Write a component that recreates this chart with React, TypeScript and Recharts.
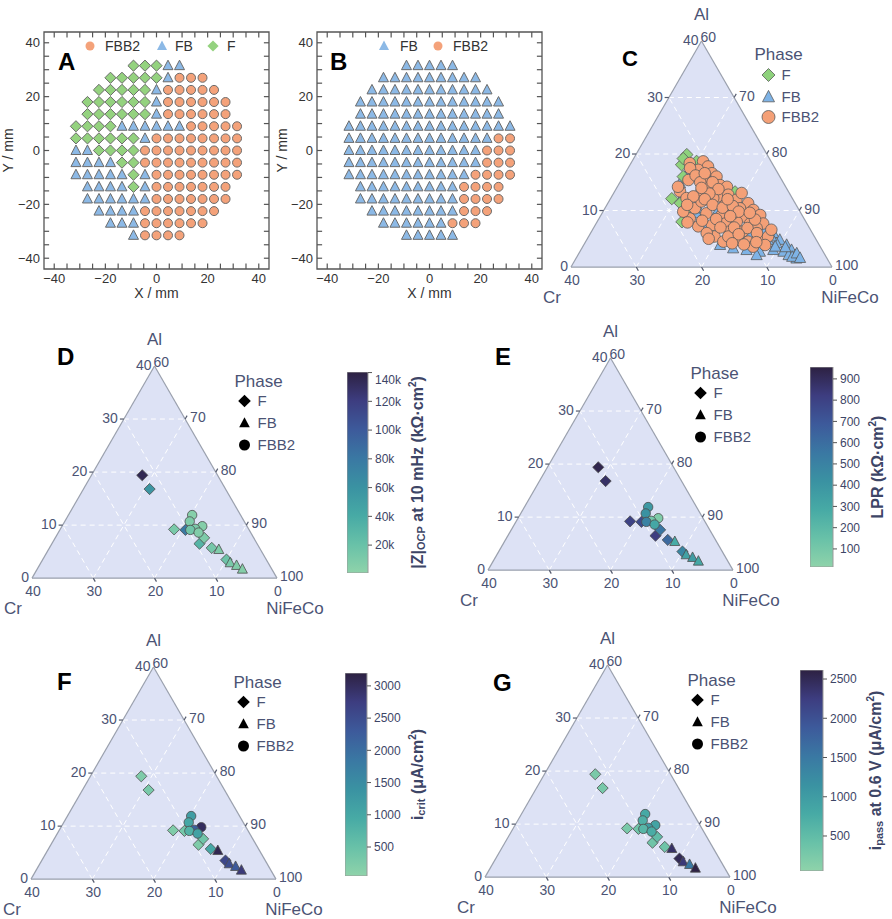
import React from "react";
import {
  ScatterChart, Scatter, ComposedChart, Area, Bar, XAxis, YAxis,
  ReferenceLine, ReferenceArea,
} from "recharts";

const FONT = '"Liberation Sans", Arial, Helvetica, sans-serif';
const INK = "#4b5374";

// ---------- wafer maps (A, B): one string per row, one char per column ----------
// D = F phase, T = FB, O = FBB2, . = no spot
const WAFER_X = [-31.5, -27, -22.5, -18, -13.5, -9, -4.5, 0, 4.5, 9, 13.5, 18, 22.5, 27, 31.5];
const WAFER_Y = [31.5, 27, 22.5, 18, 13.5, 9, 4.5, 0, -4.5, -9, -13.5, -18, -22.5, -27, -31.5];

const WAFER_A = [
  ".....DDDTT.....",
  "...DDDDDTOOO...",
  "..DDDDDTOOOOO..",
  ".DDDDDDTOOOOOO.",
  ".DDDDDDTOOOOOO.",
  "DDDDTTTTTTOOOOO",
  "DDDDDDTOOOOOOOO",
  "TTDDDDOOOOOOOOO",
  "TTTTDDOOOOOOOOO",
  "TTTTTDTOOOOOOOO",
  ".TTTTDTOOOOOOO.",
  ".TTTTTTOOOOOOO.",
  "..TTTTOOOOOOO..",
  "...TTTOOOOOO...",
  ".....TOOOO.....",
];

const WAFER_B = [
  ".....TTTTT.....",
  "...TTTTTTTTT...",
  "..TTTTTTTTTTT..",
  ".TTTTTTTTTTTTT.",
  ".TTTTTTTTTTTTT.",
  "TTTTTTTTTTTTTTT",
  "TTTTTTTTTTTTTOO",
  "TTTTTTTTTTTTOOO",
  "TTTTTTTTTTTTOOO",
  "TTTTTTTTTTTOOOO",
  ".TTTTTTTTTOOOO.",
  ".TTTTTTTTTOOOO.",
  "..TTTTTTTTOOO..",
  "...TTTTTTOOO...",
  ".....TTTTT.....",
];

const AXIS_TICKS = [-40, -20, 0, 20, 40];
const MINOR_TICKS = [-40, -35, -30, -25, -20, -15, -10, -5, 0, 5, 10, 15, 20, 25, 30, 35, 40];

// ---------- ternary C: all compositions [Al, Cr] at.% (NiFeCo = balance) ----------
const C_F: [number, number][] = [
  [19.9, 12.3], [18.1, 14.0], [17.2, 12.9], [18.7, 11.4], [12.1, 18.5], [11.3, 17.6],
  [10.6, 16.5], [13.3, 8.2], [8.0, 19.0], [16.3, 11.1], [16.0, 14.8], [19.2, 13.2],
];
const C_FB: [number, number][] = [
  [6.0, 6.0], [4.8, 5.6], [3.9, 5.0], [3.0, 4.7], [2.1, 4.6], [2.7, 6.1], [3.0, 7.5],
  [4.2, 6.4], [4.8, 7.4], [2.1, 5.6], [2.7, 9.7], [3.0, 11.6], [3.3, 13.5], [3.9, 15.2],
  [12.8, 16.4], [14.8, 15.9], [16.9, 13.6], [9.5, 16.0], [10.4, 15.3], [10.1, 12.4],
  [7.2, 15.6], [6.0, 9.6], [6.3, 7.2], [1.5, 4.7], [2.1, 10.5], [10.1, 10.6],
  [3.5, 5.4], [1.8, 5.2], [2.4, 4.2], [5.4, 6.6], [3.6, 6.9], [1.6, 4.1],
];
const C_FBB2: [number, number][] = [
  [18.7, 10.4], [17.8, 10.1], [17.2, 11.9], [16.6, 10.1], [16.0, 9.7], [15.7, 11.6],
  [15.4, 14.3], [14.5, 9.9], [14.2, 9.0], [14.2, 11.6], [13.4, 13.3], [13.4, 16.6],
  [12.2, 16.2], [12.5, 11.2], [12.8, 9.5], [11.9, 8.7], [11.3, 7.2], [11.0, 10.9],
  [10.4, 8.9], [10.1, 7.0], [9.2, 6.4], [8.9, 8.9], [9.2, 12.3], [9.5, 14.5],
  [8.6, 17.5], [9.8, 17.9], [7.2, 16.9], [7.4, 14.7], [7.7, 12.5], [8.0, 10.6],
  [7.7, 8.7], [7.7, 6.7], [6.9, 8.1], [6.3, 10.5], [6.3, 12.5], [5.4, 15.3],
  [4.5, 14.4], [4.8, 12.2], [4.5, 10.6], [5.1, 8.8], [5.4, 7.1], [3.9, 8.3],
  [3.6, 10.3], [10.4, 15.8], [11.6, 14.2], [12.2, 12.1], [6.6, 6.0], [9.5, 10.4],
  [6.0, 16.2], [13.1, 7.3], [14.2, 16.5], [18.4, 12.6], [12.5, 15.0], [5.4, 13.2],
  [17.5, 13.0], [16.2, 12.8], [15.0, 12.7], [15.0, 10.8], [13.8, 10.5], [13.0, 12.3],
  [12.0, 13.5], [11.0, 12.8], [10.5, 11.5], [10.8, 9.8], [9.8, 9.4], [9.0, 11.1],
  [8.5, 13.5], [8.2, 15.8], [7.0, 13.6], [7.0, 11.5], [6.9, 9.5], [6.0, 8.5],
  [5.8, 11.4], [4.2, 13.2], [4.0, 11.5], [4.4, 9.4], [8.4, 7.6], [9.6, 7.8],
  [12.0, 10.0], [14.0, 13.0], [16.6, 11.2], [11.0, 16.7], [7.9, 18.2], [5.0, 16.4],
];

// ---------- ternaries D–G: measured samples [Al, Cr] ----------
const MEAS_F: [number, number][] = [
  [19.4, 12.3], [16.8, 12.4], [9.2, 12.2], [9.1, 10.4], [6.5, 9.4], [7.6, 8.1], [5.7, 7.8], [3.5, 6.5],
];
const MEAS_FB: [number, number][] = [[5.4, 6.8], [2.9, 6.2], [2.4, 5.4], [1.7, 4.8]];
const MEAS_FBB2: [number, number][] = [
  [11.9, 7.9], [10.7, 8.9], [9.8, 7.3], [9.3, 8.7], [9.1, 9.6], [8.6, 8.5],
];

const ZOCP_F = [135000, 58000, 12000, 80000, 32000, 10000, 14000, 18000];
const ZOCP_FB = [9000, 12000, 8000, 6000];
const ZOCP_FBB2 = [5000, 9000, 6000, 11000, 16000, 8000];

const LPR_F = [930, 880, 800, 760, 820, 560, 620, 480];
const LPR_FB = [280, 330, 360, 300];
const LPR_FBB2 = [380, 420, 70, 110, 500, 300];

const ICRIT_F = [250, 300, 220, 350, 250, 420, 1000, 2600];
const ICRIT_FB = [3100, 2500, 2300, 2800];
const ICRIT_FBB2 = [1200, 1000, 3000, 2200, 800, 1100];

const IPASS_F = [250, 280, 260, 350, 350, 500, 350, 2500];
const IPASS_FB = [2400, 2300, 1500, 2600];
const IPASS_FBB2 = [800, 700, 900, 1000, 600, 750];

const ZOCP_TICKS = [20000, 40000, 60000, 80000, 100000, 120000, 140000];
const LPR_TICKS = [100, 200, 300, 400, 500, 600, 700, 800, 900];
const ICRIT_TICKS = [500, 1000, 1500, 2000, 2500, 3000];
const IPASS_TICKS = [500, 1000, 1500, 2000, 2500];

const ZOCP_DOM: [number, number] = [600, 140400];
const LPR_DOM: [number, number] = [15, 956];
const ICRIT_DOM: [number, number] = [50, 3200];
const IPASS_DOM: [number, number] = [54, 2615];

const AL_TICKS = [0, 10, 20, 30, 40];
const NIFECO_TICKS = [60, 70, 80, 90, 100];
const CR_TICKS = [40, 30, 20, 10, 0];
const GRID_STEPS = [10, 20, 30];

// colour scale of the colour bars (low -> high)
const CMAP = ["#8fd3aa", "#68c1a8", "#47aaa5", "#3a92a2", "#3a78a3", "#3d5a9b", "#3d3d80", "#2d2142"];

type Kind = "circle" | "triangle" | "diamond";
type Phase = "F" | "FB" | "FBB2";

const PHASE_CODE: Record<string, Phase> = { D: "F", T: "FB", O: "FBB2" };
const WAFER_STYLE: Record<Phase, { kind: Kind; fill: string; s: number }> = {
  FBB2: { kind: "circle", fill: "#F4A27A", s: 4.5 },
  FB: { kind: "triangle", fill: "#8CB9E6", s: 5 },
  F: { kind: "diamond", fill: "#94D27F", s: 5.6 },
};

function hex(c: string) {
  return [1, 3, 5].map((i) => parseInt(c.slice(i, i + 2), 16));
}
function cmap(t: number) {
  const tt = Math.max(0, Math.min(1, t));
  const n = CMAP.length - 1;
  const i = Math.min(n - 1, Math.floor(tt * n));
  const f = tt * n - i;
  const a = hex(CMAP[i]);
  const b = hex(CMAP[i + 1]);
  const m = a.map((v, k) => Math.round(v + (b[k] - v) * f));
  return `rgb(${m[0]},${m[1]},${m[2]})`;
}

const SQ = Math.sqrt(3) / 2;
// ternary composition -> cartesian (x along the Cr/NiFeCo base, y up towards Al)
const tern = (al: number, cr: number) => ({ x: 40 - cr - al / 2, y: al * SQ });

function waferPoints(rows: string[], phase: Phase) {
  const out: { x: number; y: number }[] = [];
  rows.forEach((row, r) => {
    row.split("").forEach((ch, c) => {
      if (PHASE_CODE[ch] === phase) out.push({ x: WAFER_X[c], y: WAFER_Y[r] });
    });
  });
  return out;
}

function Marker({ cx, cy, kind, s, fill, stroke, sw }: {
  cx?: number; cy?: number; kind: Kind; s: number; fill: string; stroke?: string; sw?: number;
}) {
  if (cx == null || cy == null || isNaN(cx) || isNaN(cy)) return null;
  const common = { fill, stroke: stroke ?? "none", strokeWidth: sw ?? 0 };
  if (kind === "circle") return <circle cx={cx} cy={cy} r={s} {...common} />;
  if (kind === "triangle") {
    const p = `${cx},${cy - s * 1.1} ${cx + s},${cy + s * 0.8} ${cx - s},${cy + s * 0.8}`;
    return <polygon points={p} {...common} strokeLinejoin="round" />;
  }
  const p = `${cx},${cy - s} ${cx + s},${cy} ${cx},${cy + s} ${cx - s},${cy}`;
  return <polygon points={p} {...common} />;
}

const fmtMinus = (v: number) => (v < 0 ? `\u2212${-v}` : `${v}`);

// ---------------- wafer panel ----------------
interface WaferLegendItem { phase: Phase; mx: number; tx: number; label: string }

function WaferPanel({ left, rows, legend, yLabelX }: {
  left: number; rows: string[]; legend: WaferLegendItem[]; yLabelX: number;
}) {
  const sets = (["FBB2", "FB", "F"] as Phase[]).map((ph) => ({ ph, pts: waferPoints(rows, ph) }));
  const TL = 2;
  return (
    <div style={{ position: "absolute", left, top: 0, width: 290, height: 305 }}>
      <ScatterChart width={290} height={305} margin={{ top: 32, right: 21, bottom: 0, left: 0 }}>
        <XAxis
          type="number" dataKey="x" domain={[-44, 44]} ticks={AXIS_TICKS}
          tickFormatter={fmtMinus} tickSize={0} tickMargin={5} axisLine={false} tickLine={false}
          height={36} tick={{ fontSize: 13, fill: "#333", fontFamily: FONT }}
          label={{ value: "X / mm", position: "insideBottom", offset: 7, fontSize: 14, fill: "#333", fontFamily: FONT }}
        />
        <YAxis
          type="number" dataKey="y" domain={[-44, 44]} ticks={AXIS_TICKS}
          tickFormatter={fmtMinus} tickSize={0} tickMargin={4} axisLine={false} tickLine={false}
          width={44} tick={{ fontSize: 13, fill: "#333", fontFamily: FONT }}
          label={{
            value: "Y / mm", angle: -90, position: "insideLeft", offset: yLabelX,
            fontSize: 14, fill: "#333", fontFamily: FONT, style: { textAnchor: "middle" },
          }}
        />
        <ReferenceArea x1={-44} x2={44} y1={-44} y2={44} fill="none" stroke="#555" strokeWidth={1.3} ifOverflow="visible" />
        {MINOR_TICKS.map((t) => (
          <ReferenceLine key={`b${t}`} segment={[{ x: t, y: -44 }, { x: t, y: -44 + TL }]} stroke="#555" strokeWidth={1.2} ifOverflow="visible" />
        ))}
        {MINOR_TICKS.map((t) => (
          <ReferenceLine key={`t${t}`} segment={[{ x: t, y: 44 }, { x: t, y: 44 - TL }]} stroke="#555" strokeWidth={1.2} ifOverflow="visible" />
        ))}
        {MINOR_TICKS.map((t) => (
          <ReferenceLine key={`l${t}`} segment={[{ x: -44, y: t }, { x: -44 + TL, y: t }]} stroke="#555" strokeWidth={1.2} ifOverflow="visible" />
        ))}
        {MINOR_TICKS.map((t) => (
          <ReferenceLine key={`r${t}`} segment={[{ x: 44, y: t }, { x: 44 - TL, y: t }]} stroke="#555" strokeWidth={1.2} ifOverflow="visible" />
        ))}
        {sets.map(({ ph, pts }) => {
          const st = WAFER_STYLE[ph];
          return (
            <Scatter
              key={ph} data={pts} isAnimationActive={false}
              shape={(p: any) => <Marker cx={p.cx} cy={p.cy} kind={st.kind} s={st.s} fill={st.fill} stroke="#6b6b6b" sw={1} />}
            />
          );
        })}
      </ScatterChart>
      <svg width={290} height={80} style={{ position: "absolute", left: 0, top: 0, pointerEvents: "none" }}>
        {legend.map((it) => {
          const st = WAFER_STYLE[it.phase];
          return (
            <g key={it.label}>
              <Marker cx={it.mx} cy={46} kind={st.kind} s={st.s} fill={st.fill} />
              <text x={it.tx} y={51} fontSize={14} fill="#333" fontFamily={FONT}>{it.label}</text>
            </g>
          );
        })}
      </svg>
    </div>
  );
}

// ---------------- ternary panel ----------------
interface TernSeries { key: string; kind: Kind; s: number; stroke: string; pts: { x: number; y: number; fill: string }[] }
interface LegendItem { kind: Kind; s: number; fill: string; stroke?: string; label: string }
interface TernLegend { phaseDx: number; phaseDy: number; markerDx: number; textDx: number; rows: number[]; items: LegendItem[] }

const ML = 30, MR = 90, MT = 40, MB = 40;
const TRIANGLE = [{ x: 0, y: 0 }, { x: 20, y: 40 * SQ }, { x: 40, y: 0 }];

function TernaryPanel({ x0, yb, w, series, legend }: {
  x0: number; yb: number; w: number; series: TernSeries[]; legend: TernLegend;
}) {
  const h = w * SQ;
  const d = 0.65;
  const gridAl = GRID_STEPS.map((a) => [tern(a, 40 - a), tern(a, 0)]);
  const gridCr = GRID_STEPS.map((c) => [tern(0, c), tern(40 - c, c)]);
  const gridNi = GRID_STEPS.map((s) => [tern(0, s), tern(s, 0)]);
  const tickAl = GRID_STEPS.map((a) => [tern(a, 40 - a), tern(a, 40 - a + d)]);
  const tickNi = GRID_STEPS.map((s) => [tern(s, 0), tern(s + d, -d)]);
  const tickCr = GRID_STEPS.map((c) => [tern(0, c), tern(-d, c)]);
  const edges = [[tern(0, 40), tern(40, 0)], [tern(40, 0), tern(0, 0)], [tern(0, 0), tern(0, 40)]];

  const leftLabels = AL_TICKS.map((a) => ({ ...tern(a, 40 - a), label: String(a), end: a === 0 || a === 40 }));
  const rightLabels = NIFECO_TICKS.map((n) => ({ ...tern(100 - n, 0), label: String(n), n }));
  const bottomLabels = CR_TICKS.map((c) => ({ ...tern(0, c), label: String(c) }));
  const corners = [
    { ...tern(40, 0), label: "Al", dx: 0, dy: -21 },
    { ...tern(0, 40), label: "Cr", dx: -19, dy: 36 },
    { ...tern(0, 0), label: "NiFeCo", dx: 18, dy: 36 },
  ];

  const tx = ML + w / 2;
  const ty = MT;

  return (
    <div style={{ position: "absolute", left: x0 - ML, top: yb - h - MT }}>
      <ComposedChart width={w + ML + MR} height={h + MT + MB} margin={{ top: MT, right: MR, bottom: MB, left: ML }}>
        <XAxis type="number" dataKey="x" domain={[0, 40]} hide />
        <YAxis type="number" dataKey="y" domain={[0, 40 * SQ]} hide />
        <Area data={TRIANGLE} dataKey="y" type="linear" stroke="none" fill="#DDE2F5" fillOpacity={1} isAnimationActive={false} />
        {[...gridAl, ...gridCr, ...gridNi].map((g, i) => (
          <ReferenceLine key={`g${i}`} segment={g} stroke="#ffffff" strokeWidth={1} strokeDasharray="5 4" ifOverflow="visible" />
        ))}
        {edges.map((g, i) => (
          <ReferenceLine key={`e${i}`} segment={g} stroke="#9aa0ad" strokeWidth={1.2} ifOverflow="visible" />
        ))}
        {[...tickAl, ...tickNi, ...tickCr].map((g, i) => (
          <ReferenceLine key={`t${i}`} segment={g} stroke="#555b6e" strokeWidth={1.2} ifOverflow="visible" />
        ))}
        {series.map((sr) => (
          <Scatter
            key={sr.key} data={sr.pts} isAnimationActive={false}
            shape={(p: any) => <Marker cx={p.cx} cy={p.cy} kind={sr.kind} s={sr.s} fill={p.payload.fill} stroke={sr.stroke} sw={0.8} />}
          />
        ))}
        <Scatter
          data={leftLabels} isAnimationActive={false}
          shape={(p: any) => (
            <text x={p.cx + (p.payload.end ? -3 : -6)} y={p.cy + 4} textAnchor="end" fontSize={14} fill={INK} fontFamily={FONT}>
              {p.payload.label}
            </text>
          )}
        />
        <Scatter
          data={rightLabels} isAnimationActive={false}
          shape={(p: any) => (
            <text x={p.cx + (p.payload.n === 60 ? -1 : p.payload.n === 100 ? 3 : 5)} y={p.cy + (p.payload.n === 60 ? 1 : 3)}
              textAnchor="start" fontSize={14} fill={INK} fontFamily={FONT}>
              {p.payload.label}
            </text>
          )}
        />
        <Scatter
          data={bottomLabels} isAnimationActive={false}
          shape={(p: any) => (
            <text x={p.cx + 1} y={p.cy + 18} textAnchor="middle" fontSize={14} fill={INK} fontFamily={FONT}>
              {p.payload.label}
            </text>
          )}
        />
        <Scatter
          data={corners} isAnimationActive={false}
          shape={(p: any) => (
            <text x={p.cx + p.payload.dx} y={p.cy + p.payload.dy} textAnchor="middle" fontSize={17} fill={INK} fontFamily={FONT}>
              {p.payload.label}
            </text>
          )}
        />
      </ComposedChart>
      <svg width={w + ML + MR} height={140} style={{ position: "absolute", left: 0, top: 0, pointerEvents: "none" }}>
        <text x={tx + legend.phaseDx} y={ty + legend.phaseDy + 6} fontSize={17} fill={INK} fontFamily={FONT}>Phase</text>
        {legend.items.map((it, i) => (
          <g key={it.label}>
            <Marker cx={tx + legend.markerDx} cy={ty + legend.rows[i]} kind={it.kind} s={it.s} fill={it.fill} stroke={it.stroke} sw={it.stroke ? 0.8 : 0} />
            <text x={tx + legend.textDx} y={ty + legend.rows[i] + 5} fontSize={15} fill={INK} fontFamily={FONT}>{it.label}</text>
          </g>
        ))}
      </svg>
    </div>
  );
}

// ---------------- colour bar ----------------
function Colorbar({ id, left, top, barW, height, domain, ticks, fmt, titleDx, title }: {
  id: string; left: number; top: number; barW: number; height: number; domain: [number, number];
  ticks: number[]; fmt: (v: number) => string; titleDx: number; title: React.ReactNode;
}) {
  const axisW = 90;
  const bar = [{ k: id, span: domain }];
  return (
    <div style={{ position: "absolute", left, top }}>
      <ComposedChart
        width={barW + axisW} height={height} data={bar} barCategoryGap={0}
        margin={{ top: 0, right: 0, bottom: 0, left: 0 }}
      >
        <defs>
          <linearGradient id={id} x1="0" y1="1" x2="0" y2="0">
            {CMAP.map((c, i) => <stop key={c} offset={i / (CMAP.length - 1)} stopColor={c} />)}
          </linearGradient>
        </defs>
        <XAxis type="category" dataKey="k" hide />
        <YAxis
          type="number" orientation="right" domain={domain} ticks={ticks} tickFormatter={fmt} allowDataOverflow
          width={axisW} axisLine={false} tickSize={4} tickMargin={3} tickLine={{ stroke: "#555" }}
          tick={{ fontSize: 12, fill: "#3d4566", fontFamily: FONT }}
          label={(p: any) => {
            const vb = p.viewBox || { x: barW, y: 0, width: axisW, height };
            const cx = vb.x + titleDx;
            const cy = vb.y + vb.height / 2;
            return (
              <text transform={`rotate(-90 ${cx} ${cy})`} x={cx} y={cy} textAnchor="middle" dominantBaseline="central"
                fontSize={16} fontWeight={700} fill="#3d4566" fontFamily={FONT}>
                {title}
              </text>
            );
          }}
        />
        <Bar dataKey="span" fill={`url(#${id})`} stroke="#9a9a9a" strokeWidth={1} isAnimationActive={false} />
      </ComposedChart>
    </div>
  );
}

// ---------------- assembly ----------------
const C_STYLE = {
  F: { kind: "diamond" as Kind, fill: "#8ED27C", s: 6.2 },
  FB: { kind: "triangle" as Kind, fill: "#7EB3E6", s: 5.6 },
  FBB2: { kind: "circle" as Kind, fill: "#F4A077", s: 5.8 },
};

function cSeries(): TernSeries[] {
  const mk = (key: Phase, comp: [number, number][]) => ({
    key, kind: C_STYLE[key].kind, s: C_STYLE[key].s, stroke: "#5a5a5a",
    pts: comp.map(([al, cr]) => ({ ...tern(al, cr), fill: C_STYLE[key].fill })),
  });
  return [mk("FB", C_FB), mk("F", C_F), mk("FBB2", C_FBB2)];
}

function valueSeries(vF: number[], vFB: number[], vFBB2: number[], dom: [number, number]): TernSeries[] {
  const mk = (key: string, kind: Kind, s: number, comp: [number, number][], vals: number[]) => ({
    key, kind, s, stroke: "#4d4d4d",
    pts: comp.map(([al, cr], i) => ({ ...tern(al, cr), fill: cmap((vals[i] - dom[0]) / (dom[1] - dom[0])) })),
  });
  return [
    mk("F", "diamond", 5.6, MEAS_F, vF),
    mk("FB", "triangle", 5, MEAS_FB, vFB),
    mk("FBB2", "circle", 4.7, MEAS_FBB2, vFBB2),
  ];
}

const BLACK_LEGEND: LegendItem[] = [
  { kind: "diamond", s: 6.3, fill: "#000", label: "F" },
  { kind: "triangle", s: 5.3, fill: "#000", label: "FB" },
  { kind: "circle", s: 5.5, fill: "#000", label: "FBB2" },
];
const DG_LEGEND: TernLegend = { phaseDx: 80, phaseDy: 15, markerDx: 90, textDx: 103, rows: [35, 57, 79], items: BLACK_LEGEND };
const C_LEGEND: TernLegend = {
  phaseDx: 53, phaseDy: 13, markerDx: 67, textDx: 80, rows: [34, 56, 76],
  items: [
    { kind: "diamond", s: 6.5, fill: C_STYLE.F.fill, stroke: "#5a5a5a", label: "F" },
    { kind: "triangle", s: 6, fill: C_STYLE.FB.fill, stroke: "#5a5a5a", label: "FB" },
    { kind: "circle", s: 6.5, fill: C_STYLE.FBB2.fill, stroke: "#5a5a5a", label: "FBB2" },
  ],
};

const LETTERS = [
  { t: "A", x: 58, y: 70, s: 24 }, { t: "B", x: 330, y: 70, s: 24 }, { t: "C", x: 622, y: 66, s: 22 },
  { t: "D", x: 57, y: 365, s: 24 }, { t: "E", x: 495, y: 365, s: 24 },
  { t: "F", x: 57, y: 690, s: 24 }, { t: "G", x: 493, y: 691, s: 24 },
];

export default function App() {
  const sub = (s: string) => <tspan dy={4} fontSize={11}>{s}</tspan>;
  return (
    <div style={{ position: "relative", width: 892, height: 919, background: "#fff", overflow: "hidden", fontFamily: FONT }}>
      <style>{"body{margin:0}"}</style>
      <WaferPanel
        left={0} rows={WAFER_A} yLabelX={8}
        legend={[
          { phase: "FBB2", mx: 90, tx: 105, label: "FBB2" },
          { phase: "FB", mx: 162, tx: 175, label: "FB" },
          { phase: "F", mx: 213, tx: 227, label: "F" },
        ]}
      />
      <WaferPanel
        left={273} rows={WAFER_B} yLabelX={9}
        legend={[
          { phase: "FB", mx: 111, tx: 127, label: "FB" },
          { phase: "FBB2", mx: 165, tx: 180, label: "FBB2" },
        ]}
      />
      <TernaryPanel x0={571} yb={267} w={261} series={cSeries()} legend={C_LEGEND} />
      <TernaryPanel x0={32} yb={578} w={245} series={valueSeries(ZOCP_F, ZOCP_FB, ZOCP_FBB2, ZOCP_DOM)} legend={DG_LEGEND} />
      <TernaryPanel x0={488} yb={570} w={245} series={valueSeries(LPR_F, LPR_FB, LPR_FBB2, LPR_DOM)} legend={DG_LEGEND} />
      <TernaryPanel x0={31} yb={879} w={245} series={valueSeries(ICRIT_F, ICRIT_FB, ICRIT_FBB2, ICRIT_DOM)} legend={DG_LEGEND} />
      <TernaryPanel x0={485} yb={877} w={245} series={valueSeries(IPASS_F, IPASS_FB, IPASS_FBB2, IPASS_DOM)} legend={DG_LEGEND} />

      <Colorbar
        id="cbD" left={347} top={372} barW={21} height={201} domain={ZOCP_DOM} ticks={ZOCP_TICKS}
        fmt={(v) => `${v / 1000}k`} titleDx={49}
        title={<>|Z|{sub("OCP")}<tspan dy={-4}> at 10 mHz (kΩ·cm</tspan><tspan dy={-5} fontSize={10}>2</tspan><tspan dy={5}>)</tspan></>}
      />
      <Colorbar
        id="cbE" left={810} top={367} barW={23} height={200} domain={LPR_DOM} ticks={LPR_TICKS}
        fmt={(v) => `${v}`} titleDx={44}
        title={<>LPR (kΩ·cm<tspan dy={-5} fontSize={10}>2</tspan><tspan dy={5}>)</tspan></>}
      />
      <Colorbar
        id="cbF" left={345} top={673} barW={22} height={203} domain={ICRIT_DOM} ticks={ICRIT_TICKS}
        fmt={(v) => `${v}`} titleDx={50}
        title={<>i{sub("crit")}<tspan dy={-4}> (μA/cm</tspan><tspan dy={-5} fontSize={10}>2</tspan><tspan dy={5}>)</tspan></>}
      />
      <Colorbar
        id="cbG" left={800} top={670} barW={23} height={201} domain={IPASS_DOM} ticks={IPASS_TICKS}
        fmt={(v) => `${v}`} titleDx={52}
        title={<>i{sub("pass")}<tspan dy={-4}> at 0.6 V (μA/cm</tspan><tspan dy={-5} fontSize={10}>2</tspan><tspan dy={5}>)</tspan></>}
      />

      <svg width={892} height={919} style={{ position: "absolute", left: 0, top: 0, pointerEvents: "none" }}>
        {LETTERS.map((l) => (
          <text key={l.t} x={l.x} y={l.y} fontSize={l.s} fontWeight={700} fill="#000" fontFamily={FONT}>{l.t}</text>
        ))}
      </svg>
    </div>
  );
}
